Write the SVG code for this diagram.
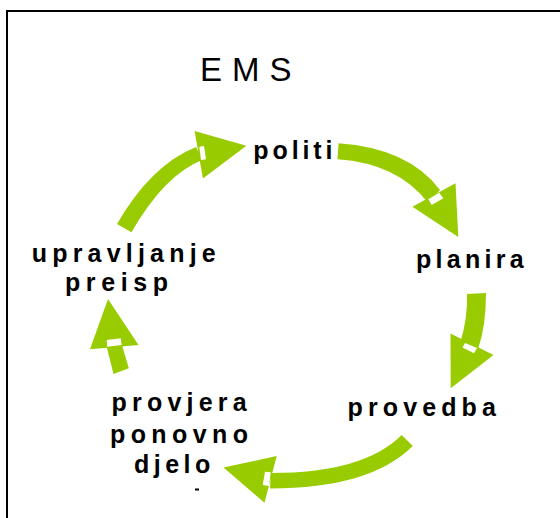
<svg xmlns="http://www.w3.org/2000/svg" width="560" height="518" viewBox="0 0 560 518">
  <style>
    .lbl { font-family: "Liberation Sans", Arial, sans-serif; font-weight: bold; font-size: 25px; fill: #000; }
    .title { font-family: "Liberation Sans", Arial, sans-serif; font-size: 33px; fill: #000; letter-spacing: 10px; }
    .arr { fill: #99CC00; stroke: none; }
    .notch { fill: #FFFFFF; stroke: none; }
  </style>
  <rect x="0" y="0" width="560" height="518" fill="#FFFFFF"/>
  <rect x="7" y="11" width="560" height="520" fill="none" stroke="#000" stroke-width="2"/>

  <g id="title"><text class="title" x="200" y="81">EMS</text></g>

  <g id="connectors">
    <!-- upravljanje -> politi -->
    <g id="arrow1">
      <path class="arr" d="M117,224 Q151,165 196,147 L202,160 Q164.4,175.1 131.4,232.3 Z"/>
      <polygon class="arr" points="194.6,131 246.4,145.7 202.9,178.5"/>
      <polygon class="notch" points="199.3,146.7 204,146 206,159.3 201,160"/>
    </g>
    <!-- politi -> planira -->
    <g id="arrow2">
      <path class="arr" d="M338.6,143.3 Q408.7,148.2 440,190 L428,203 Q398.4,163.6 337.5,159.3 Z"/>
      <polygon class="arr" points="412.4,206.7 455.5,183.3 458.3,237"/>
      <polygon class="notch" points="428.3,199.3 439.3,192.7 443.3,198.3 431.7,205"/>
    </g>
    <!-- planira -> provedba -->
    <g id="arrow3">
      <path class="arr" d="M467,294 Q468.1,316.3 460,344 L478,349 Q486,326.5 486,293 Z"/>
      <polygon class="arr" points="450.5,333.5 493.5,355 450.7,388.3"/>
      <polygon class="notch" points="465,343 477,348 474,353.3 462.5,347.5"/>
    </g>
    <!-- provedba -> provjera -->
    <g id="arrow4">
      <path class="arr" d="M401.7,435 Q363.7,473 271,473 L270,488.5 Q370.2,488.5 412.7,446 Z"/>
      <polygon class="arr" points="276.7,456 223.5,467.5 264.5,502.7"/>
      <polygon class="notch" points="265,471.7 270.7,472.3 269,486 262.7,485"/>
    </g>
    <!-- provjera -> upravljanje -->
    <g id="arrow5">
      <polygon class="arr" points="113.5,374 128.8,368.3 121.7,344 106.7,346.7"/>
      <polygon class="arr" points="108,299 138.5,345 90,349.3"/>
      <polygon class="notch" points="106.7,340 120.7,338.3 121.7,345 107.3,346.7"/>
    </g>
  </g>

  <g id="node-politi"><text class="lbl" x="253.3" y="158.5" style="letter-spacing:3.9px">politi</text></g>
  <g id="node-planira"><text class="lbl" x="416" y="268.3" style="letter-spacing:4.3px">planira</text></g>
  <g id="node-provedba"><text class="lbl" x="347.6" y="416" style="letter-spacing:5.1px">provedba</text></g>
  <g id="node-provjera">
    <text class="lbl" x="111.6" y="410.7" style="letter-spacing:5.2px">provjera</text>
    <text class="lbl" x="110" y="443.3" style="letter-spacing:5.4px">ponovno</text>
    <text class="lbl" x="134" y="473.3" style="letter-spacing:4.5px">djelo</text>
    <rect x="195" y="488.5" width="4" height="2" fill="#000"/>
  </g>
  <g id="node-upravljanje">
    <text class="lbl" x="31.7" y="261.7" style="letter-spacing:5.2px">upravljanje</text>
    <text class="lbl" x="65" y="291" style="letter-spacing:5.6px">preisp</text>
  </g>
</svg>
